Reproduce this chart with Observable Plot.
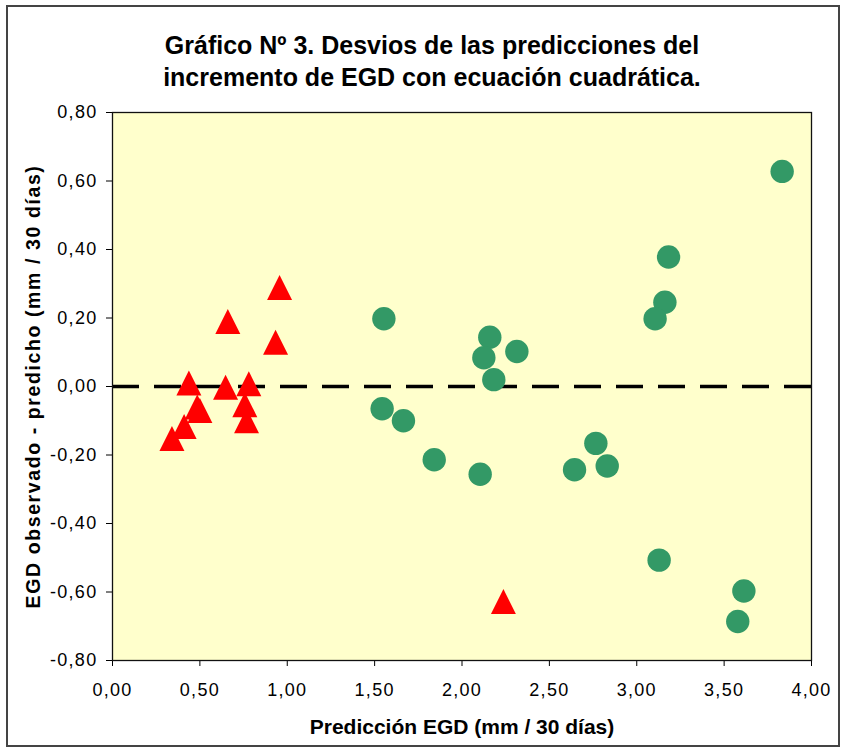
<!DOCTYPE html>
<html>
<head>
<meta charset="utf-8">
<script src="https://cdn.jsdelivr.net/npm/d3@7"></script>
<script src="https://cdn.jsdelivr.net/npm/@observablehq/plot@0.6"></script>
<style>
  html, body { margin: 0; padding: 0; background: #fff; }
  #wrap { position: relative; width: 843px; height: 747px; overflow: hidden; font-family: "Liberation Sans", Arial, sans-serif; }
  #border { position: absolute; left: 6px; top: 5px; width: 830px; height: 738px; border: 2px solid #444; box-sizing: content-box; pointer-events: none; }
  #title { position: relative; height: 100px; box-sizing: border-box; padding-top: 29px; width: 864px; text-align: center; font-weight: bold; font-size: 25px; line-height: 32px; color: #000; }
  #chart svg { display: block; }
  #chart g[aria-label="x-axis tick label"] text, #chart g[aria-label="y-axis tick label"] text { letter-spacing: 1.3px; }
  #chart g[aria-label="x-axis label"] text { font-weight: bold; font-size: 21px; }
  #chart g[aria-label="y-axis label"] text { font-weight: bold; font-size: 19.5px; letter-spacing: 1.6px; }
</style>
</head>
<body>
<div id="wrap">
  <div id="title">Gráfico Nº 3. Desvios de las predicciones del<br>incremento de EGD con ecuación cuadrática.</div>
  <div id="chart"></div>
  <div id="border"></div>
</div>
<script>
// Triangles (red)
const triX = [0.956, 0.66, 0.933, 0.437, 0.485, 0.50, 0.41, 0.34, 0.647, 0.78, 0.757, 0.767, 2.237];
const triY = [0.289, 0.19, 0.129, 0.01, -0.06, -0.07, -0.117, -0.152, -0.002, 0.008, -0.053, -0.10, -0.628];
// Circles (green)
const circX = [1.553, 2.159, 2.125, 2.314, 2.182, 1.543, 1.665, 1.841, 2.104, 3.832, 3.182, 3.161, 3.105, 2.766, 2.644, 2.831, 3.128, 3.613, 3.578];
const circY = [0.198, 0.144, 0.084, 0.102, 0.02, -0.065, -0.10, -0.214, -0.256, 0.628, 0.378, 0.246, 0.198, -0.166, -0.243, -0.232, -0.507, -0.597, -0.686];
const xTicks = [0, 0.5, 1, 1.5, 2, 2.5, 3, 3.5, 4];
const yTicks = [-0.8, -0.6, -0.4, -0.2, 0, 0.2, 0.4, 0.6, 0.8];

const tri = triX.map((x, i) => ({x, y: triY[i]}));
const circ = circX.map((x, i) => ({x, y: circY[i]}));
const fmt = d => (Math.abs(d) < 1e-9 ? 0 : d).toFixed(2).replace(".", ",");

const triangleSymbol = {
  draw(context, size) {
    const h = Math.sqrt(size / Math.PI);
    context.moveTo(0, -h);
    context.lineTo(h, h);
    context.lineTo(-h, h);
    context.closePath();
  }
};

const plot = Plot.plot({
  width: 843,
  height: 647,
  marginLeft: 112,
  marginRight: 32,
  marginTop: 12,
  marginBottom: 87,
  style: { fontFamily: "'Liberation Sans', Arial, sans-serif", fontSize: "18px", color: "#000", background: "transparent", overflow: "visible" },
  x: { domain: [0, 4] },
  y: { domain: [-0.8, 0.8] },
  marks: [
    Plot.frame({ fill: "#FFFFCC", stroke: null }),
    Plot.axisX({ ticks: xTicks, tickFormat: fmt, tickSize: 6, tickPadding: 17, label: "Predicción EGD (mm / 30 días)", labelAnchor: "center", labelArrow: "none", labelOffset: 73, stroke: "#000" }),
    Plot.axisY({ ticks: yTicks, tickFormat: fmt, tickSize: 6, tickPadding: 9, label: "EGD observado - predicho (mm / 30 días)", labelAnchor: "center", labelArrow: "none", labelOffset: 86, stroke: "#000" }),
    Plot.ruleY([0], { stroke: "#000", strokeWidth: 3.5, strokeDasharray: "27,15" }),
    Plot.dot(circ, { x: "x", y: "y", r: 11.7, fill: "#339966", stroke: null }),
    Plot.dot(tri, { x: "x", y: "y", r: 12.5, symbol: triangleSymbol, fill: "#FF0000", stroke: null }),
    Plot.frame({ stroke: "#111", strokeWidth: 1.3 })
  ]
});
document.getElementById("chart").appendChild(plot);
</script>
</body>
</html>
